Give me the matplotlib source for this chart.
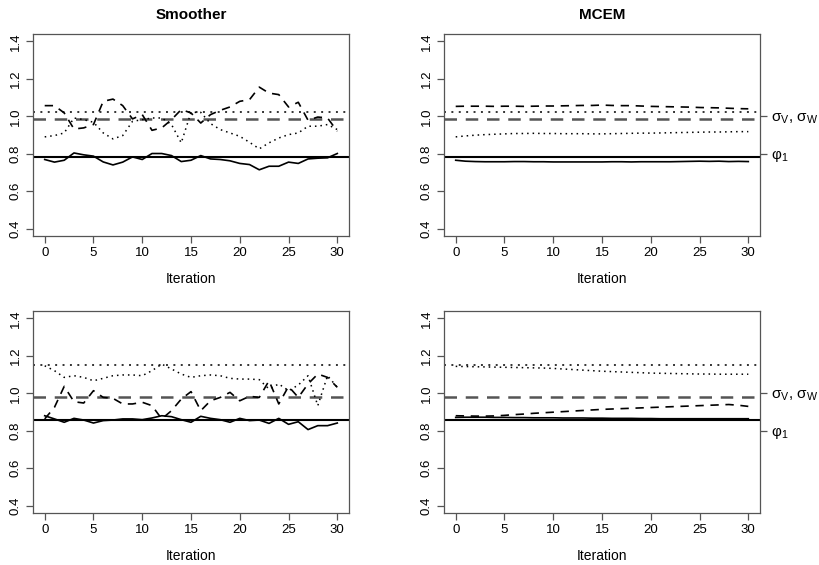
import matplotlib
matplotlib.use("Agg")
import matplotlib.pyplot as plt

plt.rcParams["font.family"] = ["Liberation Sans", "DejaVu Sans"]
plt.rcParams["mathtext.fontset"] = "custom"
plt.rcParams["mathtext.rm"] = "Liberation Sans"
plt.rcParams["mathtext.it"] = "Liberation Sans:italic"

iterations = list(range(31))

# true parameter values (reference lines), per row
true_phi = [0.780, 0.856]
true_sig_v = [0.986, 0.982]
true_sig_w = [1.025, 1.151]

# smoother estimates, row 1
sm1_phi = [0.769, 0.755, 0.765, 0.804, 0.794, 0.787, 0.756, 0.740, 0.755, 0.783,
           0.769, 0.801, 0.801, 0.790, 0.758, 0.765, 0.790, 0.772, 0.769, 0.762,
           0.748, 0.742, 0.714, 0.733, 0.733, 0.755, 0.748, 0.772, 0.776, 0.778,
           0.801]
sm1_sig_v = [1.057, 1.057, 1.018, 0.932, 0.938, 0.956, 1.080, 1.092, 1.057, 0.986,
             1.009, 0.925, 0.938, 0.982, 1.036, 1.018, 0.964, 1.009, 1.032, 1.050,
             1.080, 1.089, 1.156, 1.124, 1.116, 1.050, 1.075, 0.979, 0.996, 0.991,
             0.920]
sm1_sig_w = [0.890, 0.897, 0.911, 0.991, 0.982, 0.968, 0.911, 0.879, 0.897, 0.973,
             0.982, 0.991, 0.991, 0.956, 0.858, 1.021, 1.021, 0.961, 0.929, 0.911,
             0.893, 0.861, 0.826, 0.858, 0.884, 0.902, 0.911, 0.947, 0.947, 0.956,
             0.929]

# MCEM estimates, row 1
mc1_phi = [0.765, 0.760, 0.758, 0.757, 0.757, 0.757, 0.758, 0.758, 0.757, 0.757,
           0.756, 0.756, 0.756, 0.756, 0.756, 0.756, 0.757, 0.757, 0.756, 0.757,
           0.757, 0.757, 0.757, 0.758, 0.759, 0.760, 0.759, 0.760, 0.758, 0.759,
           0.758]
mc1_sig_v = [1.053, 1.054, 1.054, 1.054, 1.053, 1.054, 1.054, 1.053, 1.054, 1.055,
             1.055, 1.056, 1.057, 1.058, 1.058, 1.060, 1.058, 1.057, 1.057, 1.055,
             1.053, 1.052, 1.051, 1.050, 1.049, 1.047, 1.046, 1.045, 1.043, 1.041,
             1.040]
mc1_sig_w = [0.890, 0.895, 0.899, 0.902, 0.904, 0.906, 0.908, 0.908, 0.909, 0.908,
             0.908, 0.907, 0.907, 0.907, 0.906, 0.906, 0.907, 0.908, 0.909, 0.910,
             0.910, 0.911, 0.912, 0.913, 0.914, 0.915, 0.916, 0.916, 0.917, 0.918,
             0.918]

# smoother estimates, row 2
sm2_phi = [0.880, 0.863, 0.845, 0.866, 0.857, 0.841, 0.854, 0.857, 0.863, 0.863,
           0.859, 0.868, 0.880, 0.875, 0.859, 0.845, 0.877, 0.866, 0.859, 0.845,
           0.866, 0.854, 0.857, 0.839, 0.866, 0.834, 0.848, 0.806, 0.827, 0.827,
           0.841]
sm2_sig_v = [0.863, 0.925, 1.037, 0.955, 0.948, 1.014, 0.978, 0.973, 0.943, 0.943,
             0.952, 0.934, 0.863, 0.907, 0.969, 1.009, 0.907, 0.960, 0.978, 1.005,
             0.960, 0.984, 0.978, 1.067, 0.943, 1.037, 0.978, 1.050, 1.103, 1.085,
             1.032]
sm2_sig_w = [1.147, 1.121, 1.085, 1.094, 1.085, 1.067, 1.080, 1.094, 1.098, 1.098,
             1.094, 1.121, 1.156, 1.130, 1.103, 1.085, 1.094, 1.098, 1.094, 1.080,
             1.076, 1.076, 1.073, 1.023, 1.050, 1.014, 1.044, 1.094, 0.934, 1.094,
             1.032]

# MCEM estimates, row 2
mc2_phi = [0.871, 0.872, 0.872, 0.872, 0.871, 0.871, 0.870, 0.870, 0.869, 0.869,
           0.869, 0.868, 0.868, 0.868, 0.867, 0.867, 0.866, 0.866, 0.866, 0.865,
           0.865, 0.864, 0.864, 0.864, 0.864, 0.864, 0.864, 0.864, 0.864, 0.864,
           0.864]
mc2_sig_v = [0.880, 0.879, 0.878, 0.878, 0.879, 0.882, 0.886, 0.889, 0.893, 0.896,
             0.899, 0.902, 0.905, 0.908, 0.911, 0.914, 0.916, 0.918, 0.920, 0.922,
             0.924, 0.926, 0.928, 0.930, 0.932, 0.934, 0.936, 0.938, 0.940, 0.936,
             0.930]
mc2_sig_w = [1.144, 1.143, 1.142, 1.141, 1.140, 1.139, 1.138, 1.137, 1.136, 1.135,
             1.133, 1.130, 1.127, 1.124, 1.121, 1.118, 1.116, 1.114, 1.112, 1.110,
             1.108, 1.107, 1.106, 1.105, 1.104, 1.103, 1.103, 1.102, 1.102, 1.102,
             1.102]

titles = ["Smoother", "MCEM"]
y_ticks = [0.4, 0.6, 0.8, 1.0, 1.2, 1.4]
x_ticks = [0, 5, 10, 15, 20, 25, 30]
right_ticks = [1.0, 0.8]
right_labels = [r"$\mathrm{σ_V,\,σ_W}$", r"$\mathrm{φ_1}$"]

FRAME = "#555555"
DASH = (5, 4)
DOT = (1, 2.6)


def draw_panel(ax, phi, sig_v, sig_w, row, show_right):
    # reference lines for the true values
    ax.axhline(true_phi[row], color="black", lw=1.5, zorder=2)
    ax.axhline(true_sig_v[row], color="#555555", lw=1.8, ls=(0, (5, 3.5)), zorder=2)
    ax.axhline(true_sig_w[row], color="#333333", lw=1.4, ls=(0, (1, 2.8)), zorder=2)

    ax.plot(iterations, phi, color="black", lw=1.2, zorder=3)
    ax.plot(iterations, sig_v, color="black", lw=1.2, ls=(0, DASH), zorder=3)
    ax.plot(iterations, sig_w, color="black", lw=1.1, ls=(0, DOT), zorder=3)

    ax.set_xlim(-1.2, 31.2)
    ax.set_ylim(0.36, 1.44)
    ax.set_xticks(x_ticks)
    ax.set_yticks(y_ticks)
    ax.set_yticklabels([f"{v:.1f}" for v in y_ticks], rotation=90, va="center")
    ax.tick_params(colors=FRAME, labelcolor="black", labelsize=9.5, length=5,
                   width=0.9, pad=3)
    for sp in ax.spines.values():
        sp.set_color(FRAME)
        sp.set_linewidth(0.9)
    ax.set_xlabel("Iteration", fontsize=10, labelpad=9)

    if show_right:
        ax2 = ax.twinx()
        ax2.set_ylim(ax.get_ylim())
        ax2.set_yticks(right_ticks)
        ax2.set_yticklabels(right_labels)
        ax2.tick_params(colors=FRAME, labelcolor="black", labelsize=11,
                        length=5, width=0.9, pad=3)
        for sp in ax2.spines.values():
            sp.set_visible(False)


fig = plt.figure(figsize=(8.2, 5.65), dpi=100)
lefts = [33 / 820, 444 / 820]
width = 316 / 820
bottoms = [1 - 236 / 565, 1 - 513 / 565]
height = 202 / 565

panels = [
    [(sm1_phi, sm1_sig_v, sm1_sig_w), (mc1_phi, mc1_sig_v, mc1_sig_w)],
    [(sm2_phi, sm2_sig_v, sm2_sig_w), (mc2_phi, mc2_sig_v, mc2_sig_w)],
]

for r in range(2):
    for c in range(2):
        ax = fig.add_axes([lefts[c], bottoms[r], width, height])
        phi, sv, sw = panels[r][c]
        draw_panel(ax, phi, sv, sw, r, show_right=(c == 1))
        if r == 0:
            ax.set_title(titles[c], fontsize=11, fontweight="bold", pad=11)

fig.savefig("out.png", dpi=100)
